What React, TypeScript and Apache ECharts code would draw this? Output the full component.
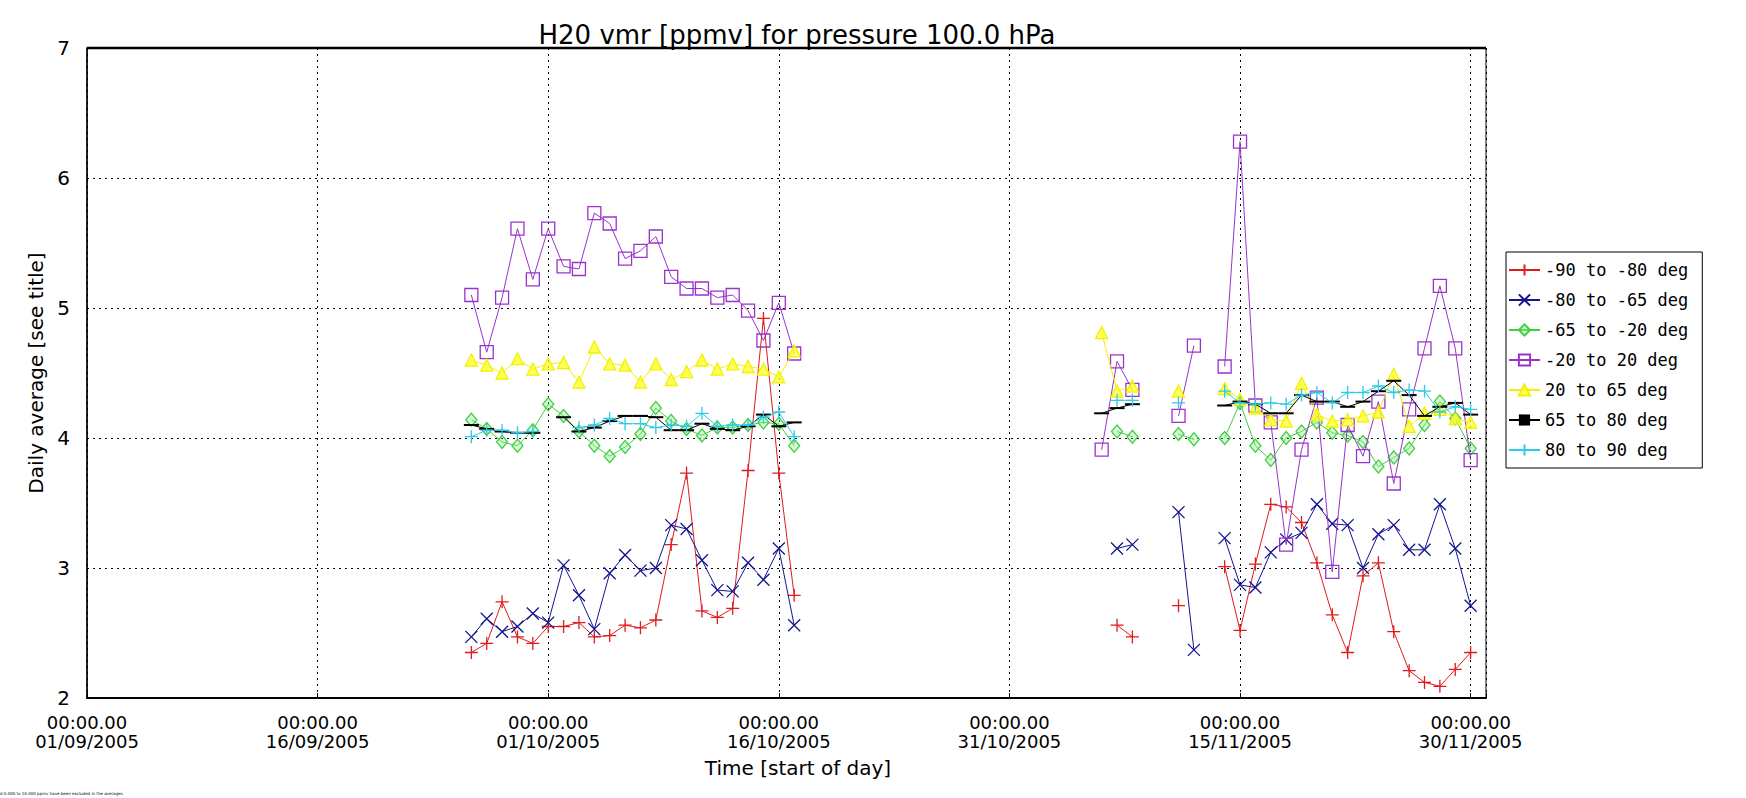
import React, { useEffect, useRef } from 'react';
import * as echarts from 'echarts';

const n = null;

// Days counted from 01/09/2005 00:00
const DAYS_OCT = [25, 26, 27, 28, 29, 30, 31, 32, 33, 34, 35, 36, 37, 38, 39, 40, 41, 42, 43, 44, 45, 46];
const DAYS_NOV = [66, 67, 68, 69, 70, 71, 72, 73, 74, 75, 76, 77, 78, 79, 80, 81, 82, 83, 84, 85, 86, 87, 88, 89, 90];

const X_TICK_DATES = ['01/09/2005', '16/09/2005', '01/10/2005', '16/10/2005', '31/10/2005', '15/11/2005', '30/11/2005'];
const X_TICK_TIME = '00:00.00';

const SERIES_NAMES = ['-90 to -80 deg', '-80 to -65 deg', '-65 to -20 deg', '-20 to 20 deg', '20 to 65 deg', '65 to 80 deg', '80 to 90 deg'];

const S1_OCT = [2.35, 2.42, 2.74, 2.47, 2.42, 2.55, 2.55, 2.58, 2.47, 2.48, 2.56, 2.54, 2.60, 3.18, 3.73, 2.67, 2.62, 2.69, 3.75, 4.92, 3.73, 2.79];
const S1_NOV = [n, 2.56, 2.47, n, n, 2.71, n, n, 3.01, 2.52, 3.03, 3.49, 3.47, 3.35, 3.04, 2.64, 2.35, 2.94, 3.04, 2.51, 2.21, 2.12, 2.09, 2.22, 2.35];

const S2_OCT = [2.47, 2.61, 2.51, 2.55, 2.65, 2.58, 3.02, 2.79, 2.53, 2.96, 3.10, 2.98, 3.00, 3.33, 3.30, 3.06, 2.83, 2.82, 3.04, 2.91, 3.15, 2.56];
const S2_NOV = [n, 3.15, 3.18, n, n, 3.43, 2.37, n, 3.23, 2.87, 2.85, 3.12, 3.22, 3.27, 3.49, 3.34, 3.33, 3.00, 3.26, 3.33, 3.14, 3.14, 3.49, 3.15, 2.71];

const S3_OCT = [4.14, 4.07, 3.97, 3.94, 4.06, 4.26, 4.17, 4.05, 3.94, 3.86, 3.93, 4.03, 4.23, 4.13, 4.07, 4.02, 4.08, 4.08, 4.10, 4.12, 4.11, 3.94];
const S3_NOV = [n, 4.05, 4.01, n, n, 4.03, 3.99, n, 4.00, 4.27, 3.94, 3.83, 4.00, 4.05, 4.12, 4.04, 4.02, 3.97, 3.78, 3.85, 3.92, 4.10, 4.28, 4.15, 3.92];

const S4_OCT = [5.10, 4.66, 5.08, 5.61, 5.22, 5.61, 5.32, 5.30, 5.73, 5.65, 5.38, 5.44, 5.55, 5.24, 5.15, 5.15, 5.08, 5.10, 4.98, 4.75, 5.04, 4.65];
const S4_NOV = [3.91, 4.59, 4.37, n, n, 4.17, 4.71, n, 4.55, 6.28, 4.25, 4.12, 3.18, 3.91, 4.31, 2.97, 4.10, 3.86, 4.28, 3.65, 4.22, 4.69, 5.17, 4.69, 3.83];

const S5_OCT = [4.60, 4.56, 4.50, 4.61, 4.53, 4.57, 4.58, 4.43, 4.70, 4.57, 4.56, 4.43, 4.57, 4.45, 4.51, 4.60, 4.53, 4.57, 4.55, 4.53, 4.47, 4.67];
const S5_NOV = [4.81, 4.36, 4.40, n, n, 4.36, n, n, 4.38, 4.30, 4.23, 4.14, 4.13, 4.42, 4.18, 4.13, 4.14, 4.17, 4.20, 4.49, 4.09, 4.19, 4.22, 4.15, 4.12];

const S6_OCT = [4.10, 4.07, 4.05, 4.04, 4.04, n, 4.16, 4.05, 4.08, 4.13, 4.17, 4.17, 4.16, 4.06, 4.06, 4.11, 4.07, 4.06, 4.09, 4.18, 4.09, 4.12];
const S6_NOV = [4.19, 4.23, 4.26, n, n, n, n, n, 4.25, 4.28, 4.26, 4.19, 4.19, 4.33, 4.28, 4.28, 4.24, 4.28, 4.36, 4.44, 4.33, 4.17, 4.24, 4.27, 4.18];

const S7_OCT = [4.01, 4.06, 4.06, 4.04, 4.05, n, n, 4.08, 4.10, 4.15, 4.11, 4.11, 4.08, 4.10, 4.09, 4.19, 4.09, 4.10, 4.10, 4.16, 4.20, 4.01];
const S7_NOV = [n, 4.29, 4.29, n, n, 4.27, n, n, 4.36, 4.27, 4.26, 4.27, 4.26, 4.33, 4.35, 4.27, 4.35, 4.35, 4.40, 4.35, 4.37, 4.36, 4.20, 4.24, 4.22];

const COLORS = ['#e01b1b', '#14148f', '#3fcf3f', '#9933cc', '#f2f200', '#000000', '#2ccbe8'];

const PLUS = 'path://M0,5L10,5M5,0L5,10';
const CROSS = 'path://M0,0L10,10M10,0L0,10';

function build(oct: (number | null)[], nov: (number | null)[]) {
  const a = DAYS_OCT.map((d, i) => [d, oct[i] == null ? '-' : oct[i]]);
  const b = DAYS_NOV.map((d, i) => [d, nov[i] == null ? '-' : nov[i]]);
  return [...a, [56, '-'], ...b];
}

const SERIES_DATA = [
  build(S1_OCT, S1_NOV),
  build(S2_OCT, S2_NOV),
  build(S3_OCT, S3_NOV),
  build(S4_OCT, S4_NOV),
  build(S5_OCT, S5_NOV),
  build(S6_OCT, S6_NOV),
  build(S7_OCT, S7_NOV),
];

const SYMBOLS: any[] = [
  { symbol: PLUS, size: 13, fill: 'transparent' },
  { symbol: CROSS, size: 12, fill: 'transparent' },
  { symbol: 'diamond', size: [11, 13], fill: 'rgba(140,235,140,0.35)' },
  { symbol: 'rect', size: 13, fill: 'transparent' },
  { symbol: 'triangle', size: 12, fill: 'rgba(255,255,40,0.75)' },
  { symbol: 'rect', size: [15, 2], fill: '#000' },
  { symbol: PLUS, size: 13, fill: 'transparent' },
];

export default function App() {
  const ref = useRef<HTMLDivElement>(null);
  useEffect(() => {
    if (!ref.current) return;
    const chart = echarts.init(ref.current, undefined, { renderer: 'svg' });
    const font = 'DejaVu Sans';
    const option: any = {
      animation: false,
      backgroundColor: '#ffffff',
      textStyle: { fontFamily: font },
      title: {
        text: 'H20 vmr [ppmv] for pressure 100.0 hPa',
        left: 792,
        top: 17,
        textAlign: 'center',
        textStyle: { fontSize: 26, fontWeight: 'normal', color: '#000', fontFamily: font },
      },
      grid: {
        left: 87, right: 260, top: 48, bottom: 100,
        show: true, borderColor: '#000', borderWidth: 1, backgroundColor: 'transparent',
      },
      xAxis: {
        type: 'value', min: 0, max: 91, interval: 15,
        axisLine: { show: true, onZero: false, lineStyle: { color: '#000', width: 2 } },
        axisTick: { show: true, inside: true, length: 5, lineStyle: { color: '#000' } },
        axisLabel: {
          margin: 15, fontSize: 18, color: '#000', lineHeight: 19, fontFamily: font,
          formatter: (v: number) => (v % 15 === 0 && v <= 90 ? `${X_TICK_TIME}\n${X_TICK_DATES[v / 15]}` : ''),
        },
        splitLine: { show: true, lineStyle: { color: '#000', type: [2, 4], width: 1 } },
      },
      yAxis: {
        type: 'value', min: 2, max: 7, interval: 1,
        name: 'Daily average [see title]', nameLocation: 'middle', nameGap: 30,
        nameTextStyle: { fontSize: 20, color: '#000', fontFamily: font },
        axisLine: { show: true, lineStyle: { color: '#000', width: 1.5 } },
        axisTick: { show: false },
        axisLabel: { margin: 17, fontSize: 20, color: '#000', fontFamily: font },
        splitLine: { show: true, lineStyle: { color: '#000', type: [2, 4], width: 1 } },
      },
      legend: {
        orient: 'vertical', left: 1506, top: 252,
        padding: [8, 14, 8, 2],
        itemWidth: 31, itemHeight: 14, itemGap: 10,
        backgroundColor: '#fff', borderColor: '#000', borderWidth: 1, borderRadius: 0,
        textStyle: { fontFamily: 'DejaVu Sans Mono', fontSize: 17, color: '#000', lineHeight: 20 },
        data: SERIES_NAMES,
      },
      graphic: [
        {
          type: 'line', z: 100,
          shape: { x1: 87, y1: 48, x2: 1486, y2: 48 },
          style: { stroke: '#000', lineWidth: 2.5 },
        },
        {
          type: 'text', x: 798, y: 768,
          style: { text: 'Time [start of day]', fontSize: 20, fontFamily: font, fill: '#000', align: 'center', verticalAlign: 'middle' },
        },
        {
          type: 'text', x: 0, y: 793,
          style: { text: 'd 0.000 to 10.000 ppmv have been excluded in the averages.', fontSize: 4, fontFamily: font, fill: '#000', verticalAlign: 'middle' },
        },
      ],
      series: SERIES_NAMES.map((name, i) => ({
        name,
        type: 'line',
        data: SERIES_DATA[i],
        connectNulls: false,
        symbol: SYMBOLS[i].symbol,
        symbolSize: SYMBOLS[i].size,
        showSymbol: true,
        lineStyle: { color: COLORS[i], width: 1 },
        itemStyle: { color: SYMBOLS[i].fill, borderColor: COLORS[i], borderWidth: i === 5 ? 0 : 1.3 },
        emphasis: { disabled: true },
        z: 2 + i,
      })),
    };
    chart.setOption(option);
    return () => chart.dispose();
  }, []);
  return (
    <div
      ref={ref}
      style={{ position: 'fixed', left: 0, top: 0, width: 1746, height: 798, background: '#fff' }}
    />
  );
}
